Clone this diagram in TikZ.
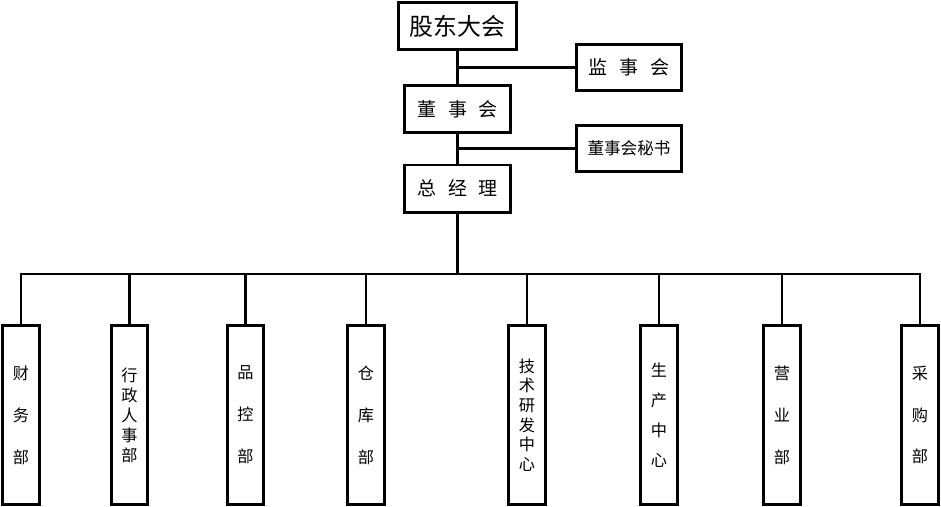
\documentclass[tikz,border=0pt]{standalone}
\usepackage{fontspec}
\newfontfamily\cjk{Noto Sans CJK SC}

\begin{document}
\begin{tikzpicture}[x=0.25mm, y=-0.25mm, line width=2.1pt,
    topbox/.style={rectangle, draw, minimum width=26.5mm, minimum height=11.8mm, inner sep=0pt, font=\cjk\fontsize{13.5pt}{16pt}\selectfont},
    sidebox/.style={rectangle, draw, minimum width=26.1mm, minimum height=11.5mm, inner sep=0pt},
    dept/.style={rectangle, draw, minimum width=9.2mm, minimum height=44.8mm, inner sep=0pt, align=center, font=\cjk\fontsize{11.5pt}{#1}\selectfont}]

    \useasboundingbox (0,0) rectangle (941,507);

    % top of the chart
    \node[topbox, minimum width=29.5mm, font=\cjk\fontsize{17pt}{20pt}\selectfont] (gd) at (457.5,26) {股东大会};
    \node[topbox, below of=gd, node distance=20.75mm] (dsh) {董\hspace{3mm}事\hspace{3mm}会};
    \node[topbox, below of=dsh, node distance=19.9mm] (zjl) {总\hspace{3mm}经\hspace{3mm}理};
    \node[sidebox, font=\cjk\fontsize{13.5pt}{16pt}\selectfont] (jsh) at (629,67.5) {监\hspace{3mm}事\hspace{3mm}会};
    \node[sidebox, below of=jsh, node distance=20.25mm, font=\cjk\fontsize{11.8pt}{14pt}\selectfont] (ms) {董事会秘书};
    \coordinate (bus) at (458,274);

    % departments
    \node[dept=29.8pt] (cw) at (21,415) {财\\务\\部};
    \node[dept=14.2pt] (xz) at (129.5,415) {行\\政\\人\\事\\部};
    \node[dept=29.8pt] (pk) at (245.5,415) {品\\控\\部};
    \node[dept=29.8pt] (ck) at (366,415) {仓\\库\\部};
    \node[dept=14pt] (js) at (527,415) {技\\术\\研\\发\\中\\心};
    \node[dept=21.3pt] (sc) at (659,415) {生\\产\\中\\心};
    \node[dept=29.8pt] (yy) at (782,415) {营\\业\\部};
    \node[dept=29.8pt] (cg) at (920,415) {采\\购\\部};

    \draw (gd) -- (dsh);
    \draw (dsh) -- (zjl);
    \draw (gd.south |- jsh) -- (jsh);
    \draw (dsh.south |- ms) -- (ms);
    \draw (zjl) -- (zjl |- bus);
    \draw (cw.north) |- (cg.north |- bus) -- (cg.north);
    \draw (xz.north) -- (xz |- bus);
    \draw (pk.north) -- (pk |- bus);
    \draw (ck.north) -- (ck |- bus);
    \draw (js.north) -- (js |- bus);
    \draw (sc.north) -- (sc |- bus);
    \draw (yy.north) -- (yy |- bus);

  \end{tikzpicture}
\end{document}
